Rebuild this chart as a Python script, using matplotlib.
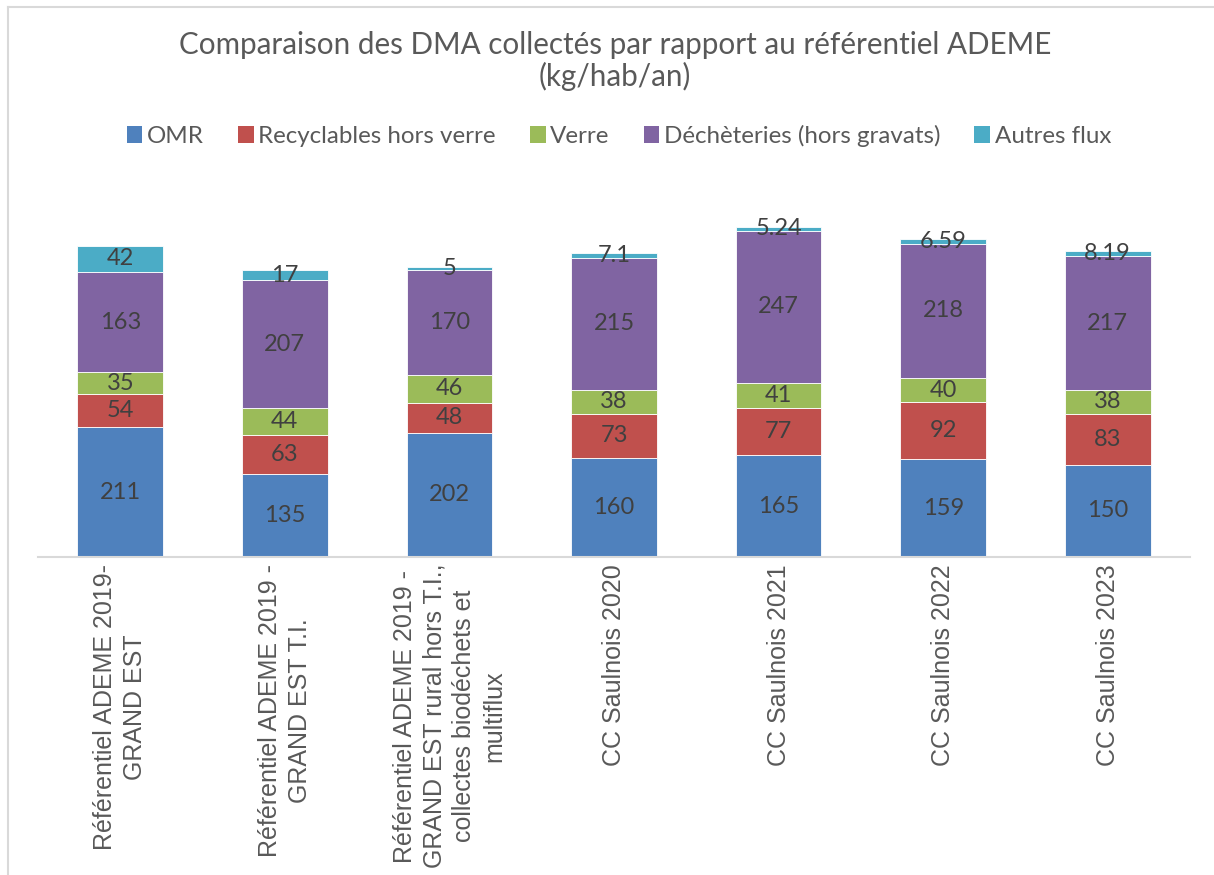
import matplotlib
matplotlib.use("Agg")
import matplotlib.pyplot as plt
from matplotlib.lines import Line2D
import numpy as np

categories = [
    "Référentiel ADEME 2019-\nGRAND EST",
    "Référentiel ADEME 2019 -\nGRAND EST T.I.",
    "Référentiel ADEME 2019 -\nGRAND EST rural hors T.I.,\ncollectes biodéchets et\nmultiflux",
    "CC Saulnois 2020",
    "CC Saulnois 2021",
    "CC Saulnois 2022",
    "CC Saulnois 2023",
]
series_names = ["OMR", "Recyclables hors verre", "Verre", "Déchèteries (hors gravats)", "Autres flux"]
omr = [211, 135, 202, 160, 165, 159, 150]
recyclables = [54, 63, 48, 73, 77, 92, 83]
verre = [35, 44, 46, 38, 41, 40, 38]
decheteries = [163, 207, 170, 215, 247, 218, 217]
autres = [42, 17, 5, 7.1, 5.24, 6.59, 8.19]
colors = ["#4F81BD", "#C0504D", "#9BBB59", "#8064A2", "#4BACC6"]

W, H = 1214, 875
fig = plt.figure(figsize=(W / 100, H / 100), dpi=100)
fig.patch.set_facecolor("white")

# chart-area border (top and left visible)
fig.add_artist(Line2D([8 / W, 8 / W], [0, 1 - 7 / H], transform=fig.transFigure, color="#D9D9D9", lw=1.5))
fig.add_artist(Line2D([8 / W, 1], [1 - 7 / H, 1 - 7 / H], transform=fig.transFigure, color="#D9D9D9", lw=1.5))

ax_left, ax_right = 38, 1190
ax_bottom, ymax = 557, 580
scale = 311 / 505.0
ax_top = ax_bottom - ymax * scale
ax = fig.add_axes([ax_left / W, 1 - ax_bottom / H, (ax_right - ax_left) / W, (ax_bottom - ax_top) / H])

x = np.arange(len(categories))
data = [omr, recyclables, verre, decheteries, autres]
bottom = np.zeros(len(categories))
for name, vals, c in zip(series_names, data, colors):
    vals = np.array(vals, dtype=float)
    bars = ax.bar(x, vals, width=0.52, bottom=bottom, color=c, label=name,
                  edgecolor="white", linewidth=0.6)
    labels = ["{:g}".format(v) for v in vals]
    ax.bar_label(bars, labels=labels, label_type="center", fontsize=17,
                 color="#404040", family="Lato")
    bottom += vals

ax.set_xlim(-0.5, len(categories) - 0.5)
ax.set_ylim(0, ymax)
ax.set_yticks([])
for s in ["top", "right", "left"]:
    ax.spines[s].set_visible(False)
ax.spines["bottom"].set_color("#D9D9D9")
ax.spines["bottom"].set_linewidth(1.5)
ax.set_xticks(x)
ax.set_xticklabels(categories, rotation=90, fontsize=18, color="#595959",
                   family="Liberation Sans", ha="center", va="top", multialignment="center",
                   linespacing=1.3)
ax.tick_params(axis="x", length=0, pad=5)

fig.text(615 / W, 1 - 61 / H, "Comparaison des DMA collectés par rapport au référentiel ADEME\n(kg/hab/an)",
         ha="center", va="center", fontsize=21.3, color="#595959", family="Lato", linespacing=1.15)

leg = fig.legend(loc="center", bbox_to_anchor=(619 / W, 1 - 136 / H), ncol=5, frameon=False,
                 prop={"family": "Lato", "size": 17.4}, handlelength=0.65, handleheight=0.65,
                 handletextpad=0.2, columnspacing=1.4, labelcolor="#595959")
for h in leg.legend_handles:
    h.set_edgecolor("none")

fig.savefig("out.png", dpi=100, facecolor="white")
